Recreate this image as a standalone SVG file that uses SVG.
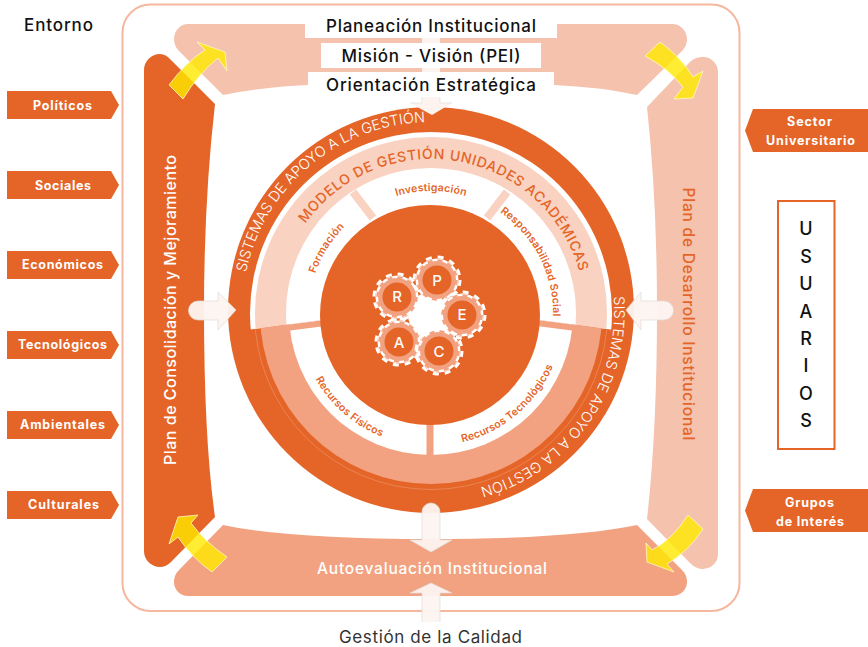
<svg xmlns="http://www.w3.org/2000/svg" width="868" height="647" viewBox="0 0 868 647">
<style>
text{font-family:"Inter","Open Sans","Liberation Sans",sans-serif}
.or{fill:#E46527}.mid{fill:#F2A280}.lt{fill:#F5C2AE}.pale{fill:#F9D2C2}
.tab{fill:#E46527}
.tt{fill:#fff;font-size:12.5px;font-weight:700;text-anchor:middle}
.hd{fill:#111;font-size:17px;font-weight:500;text-anchor:middle}
.seg{fill:#E46527;font-size:10.5px;font-weight:600;text-anchor:middle;letter-spacing:.2px}
.sis{fill:#fff;font-size:14.5px;font-weight:300;text-anchor:middle}
.us{fill:#111;font-size:18px;font-weight:500;text-anchor:middle}
.gl{fill:#fff;font-size:15px;font-weight:500;text-anchor:middle}
.yel{fill:#FFE800;fill-opacity:.8;stroke:#FFF9C8;stroke-width:.8}
.wh{fill:#FDF4F0;fill-opacity:.95;stroke:#DFDBD8;stroke-width:.7}
</style>
<defs>
<path id="pSisA" d="M253.4,375.6 A189,189 0 0 1 525.5,147.3" fill="none"/>
<path id="pSisB" d="M581,206 A183,183 0 0 1 383.6,487.8" fill="none"/>
<path id="pMod" d="M279.300,286.300 A154,154 0 0 1 582.700,339.700" fill="none"/>
<path id="pFor" d="M315,351 A122,122 0 0 1 414,192" fill="none"/>
<path id="pInv" d="M337.5,234.6 A122,122 0 0 1 524.5,234.6" fill="none"/>
<path id="pRes" d="M458.4,194.1 A122,122 0 0 1 543.3,360.7" fill="none"/>
<path id="pFis" d="M298.3,322.3 A133,133 0 0 0 440.3,445.7" fill="none"/>
<path id="pTec" d="M396.6,441.5 A133,133 0 0 0 563.5,301.4" fill="none"/>
<clipPath id="cUp"><path d="M220,100 H640 V333.5 L431,305 L220,333.5Z"/></clipPath>
<clipPath id="cLow"><path d="M220,333.5 L431,305 L640,333.5 V520 H220Z"/></clipPath>
<g id="gear">
<circle r="23" fill="none" stroke="#fff" stroke-width="3" stroke-dasharray="6 6.04"/>
<circle r="21.5" fill="#fff"/>
<circle r="19.5" fill="none" stroke="#F2A280" stroke-width="2.5" stroke-dasharray="5 5.2"/>
<circle r="19" fill="#F2A280"/>
<circle r="14.5" fill="#E46527"/>
</g>
</defs>
<rect width="868" height="647" fill="#fff"/>
<rect id="marco" x="122.5" y="4.5" width="617" height="606.5" rx="28" fill="#fff" stroke="#F5B79E" stroke-width="2"/>
<g id="planeacion-band"><path class="lt" d="M188,24 H672 A15,15 0 0 1 687,39 Q687,46 682,51 L637,95 Q600,87 554,85 H308 Q262,87 223,95 L179,51 Q174,46 174,39 A14,15 0 0 1 188,24Z"/>
<rect x="305" y="20" width="252" height="18" fill="#fff"/><rect x="321" y="43" width="220" height="25" fill="#fff"/><rect x="308" y="72" width="246" height="26" fill="#fff"/></g>
<g id="consolidacion-band"><path class="or" d="M144,70 A16,16 0 0 1 160,54 Q166,54 171,60 L215,104 Q204,200 204,310 Q204,440 215,517 L171,562 Q166,567 160,567 A16,16 0 0 1 144,551Z"/></g>
<g id="desarrollo-band"><path class="lt" d="M718,72 A15,15 0 0 0 703,57 Q695,57 690,62 L647,107 Q657,200 657,310 Q657,430 647,519 L690,563 Q696,569 703,569 A15,15 0 0 0 718,554Z"/></g>
<g id="autoevaluacion-band"><path class="mid" d="M223,525 Q290,539 431,539 Q570,539 637,525 L682,570 Q687,575 687,582 A15,14 0 0 1 672,596 H188 A14,14 0 0 1 174,582 Q174,575 179,570Z"/></g>
<g id="sistemas-ring"><circle class="or" cx="431" cy="310" r="203"/>
<circle cx="431" cy="313" r="176.5" fill="none" stroke="#F2A280" stroke-width=".5" clip-path="url(#cLow)"/>
<circle cx="431" cy="313" r="181" fill="#fff" clip-path="url(#cUp)"/></g>
<g id="modelo-ring"><circle class="pale" cx="431" cy="313" r="176" clip-path="url(#cUp)"/>
<circle class="mid" cx="431" cy="313" r="171" clip-path="url(#cLow)"/>
<circle cx="431" cy="313" r="145" fill="#fff" clip-path="url(#cUp)"/>
<circle cx="431" cy="313" r="142" fill="#fff" clip-path="url(#cLow)"/>
<path d="M353,192 L373,218 M507,192 L487,218" stroke="#F9D2C2" stroke-width="8" fill="none"/>
<path d="M430,424 V455" stroke="#F2A280" stroke-width="7" fill="none"/>
<path d="M286,328 L325,323 M576,328 L537,323" stroke="#F2A280" stroke-width="6" fill="none"/></g>
<g id="nucleo"><circle class="or" cx="430" cy="315" r="110"/></g>
<g id="ciclo-rpace">
<circle cx="431" cy="315" r="23" fill="#fff"/>
<use href="#gear" x="399" y="342"/><use href="#gear" x="397" y="297"/><use href="#gear" x="437" y="280"/><use href="#gear" x="462" y="315"/><use href="#gear" x="439" y="351"/>
<text class="gl" x="397" y="302">R</text><text class="gl" x="437" y="286">P</text><text class="gl" x="462" y="320">E</text><text class="gl" x="399" y="348">A</text><text class="gl" x="439" y="357">C</text>
</g>
<g id="connectors">
<path class="yel" d="M169,85 Q186,62 205,50 L197,42 L225,52 L227,71 L218,58 Q198,74 183,99Z"/>
<path class="yel" d="M645,56 L660,42 Q682,58 693,77 L703,71 L693,98 L674,99 L683,87 Q668,68 645,56Z"/>
<path class="yel" d="M688,515 L703,529 Q688,552 667,564 L674,572 L647,562 L646,543 L652,550 Q672,540 688,515Z"/>
<path class="yel" d="M227,557 L212,572 Q192,558 178,537 L169,544 L178,517 L198,515 L191,523 Q205,542 227,557Z"/>
<path fill="#FDF4F0" d="M422,38 H440 V97 V103 H452 L432,115 L410,103 H422Z"/>
<rect x="321" y="43" width="220" height="25" fill="#fff"/><rect x="308" y="72" width="246" height="25" fill="#fff"/>
<path d="M422,97 V103 H410 M440,97 V103 H452" fill="none" stroke="#DFDBD8" stroke-width=".7"/>
<path class="wh" d="M198,301 H218 V292 L236,310 L218,330 V320 H198 A9.5,9.5 0 0 1 198,301Z"/>
<path class="wh" d="M664,301 H641 V292 L626,310 L641,330 V320 H664 A9.5,9.5 0 0 0 664,301Z"/>
<path class="wh" d="M422,512 A9,9 0 0 1 440,512 V540 H452 L431,552 L410,540 H422Z"/>
<path class="wh" d="M422,622 V593 H410 L431,583 L452,593 H440 V622"/>
</g>
<g id="ring-labels">
<text class="sis"><textPath href="#pSisA" startOffset="50%">SISTEMAS DE APOYO A LA GESTIÓN</textPath></text>
<text class="sis"><textPath href="#pSisB" startOffset="50%">SISTEMAS DE APOYO A LA GESTIÓN</textPath></text>
<text fill="#E46527" font-size="14" font-weight="500" text-anchor="middle" letter-spacing=".7"><textPath href="#pMod" startOffset="50%">MODELO DE GESTIÓN UNIDADES ACADÉMICAS</textPath></text>
<text class="seg"><textPath href="#pFor" startOffset="50%">Formación</textPath></text>
<text class="seg"><textPath href="#pInv" startOffset="50%">Investigación</textPath></text>
<text class="seg"><textPath href="#pRes" startOffset="50%">Responsabilidad Social</textPath></text>
<text class="seg"><textPath href="#pFis" startOffset="50%">Recursos Físicos</textPath></text>
<text class="seg"><textPath href="#pTec" startOffset="50%">Recursos Tecnológicos</textPath></text>
</g>
<g id="titulos">
<text class="hd" x="431" y="32" textLength="210">Planeación Institucional</text>
<text class="hd" x="431" y="62" textLength="179">Misión - Visión (PEI)</text>
<text class="hd" x="431" y="91" textLength="210">Orientación Estratégica</text>
<text x="432" y="574" fill="#fff" font-size="15.5" font-weight="500" text-anchor="middle" textLength="230">Autoevaluación Institucional</text>
<text x="430.500" y="643" fill="#333" font-size="17" text-anchor="middle" textLength="183">Gestión de la Calidad</text>
<text class="hd" x="58.500" y="31" textLength="69">Entorno</text>
<text transform="translate(176,310) rotate(-90)" fill="#fff" font-size="16" font-weight="500" text-anchor="middle" textLength="310">Plan de Consolidación y Mejoramiento</text>
<text transform="translate(683,314) rotate(90)" fill="#E46527" font-size="15.500" font-weight="500" text-anchor="middle" textLength="253">Plan de Desarrollo Institucional</text>
</g>
<g id="entorno-politicos"><path class="tab" d="M7,91 H111 L119,105 L111,119 H7Z"/><text class="tt" x="62.500" y="110" textLength="59">Políticos</text></g>
<g id="entorno-sociales"><path class="tab" d="M7,171 H111 L119,185 L111,199 H7Z"/><text class="tt" x="63" y="190" textLength="56">Sociales</text></g>
<g id="entorno-economicos"><path class="tab" d="M7,251 H111 L119,265 L111,279 H7Z"/><text class="tt" x="62.500" y="269" textLength="81">Económicos</text></g>
<g id="entorno-tecnologicos"><path class="tab" d="M7,331 H111 L119,345 L111,359 H7Z"/><text class="tt" x="62.500" y="349" textLength="89">Tecnológicos</text></g>
<g id="entorno-ambientales"><path class="tab" d="M7,411 H111 L119,425 L111,439 H7Z"/><text class="tt" x="62.500" y="429" textLength="85">Ambientales</text></g>
<g id="entorno-culturales"><path class="tab" d="M7,491 H111 L119,505 L111,519 H7Z"/><text class="tt" x="63.500" y="509" textLength="71">Culturales</text></g>
<g id="sector-universitario"><path class="tab" d="M753,109 H868 V152 H753 L745,130.500Z"/><text class="tt" x="809.500" y="126" textLength="45">Sector</text><text class="tt" x="810.500" y="145" textLength="89">Universitario</text></g>
<g id="grupos-interes"><path class="tab" d="M753,489 H868 V532 H753 L745,510.500Z"/><text class="tt" x="809.500" y="507" textLength="49">Grupos</text><text class="tt" x="810" y="526" textLength="68">de Interés</text></g>
<g id="usuarios"><rect x="778" y="201" width="56.500" height="248" fill="#fff" stroke="#E46527" stroke-width="2"/>
<text class="us" x="806" y="235">U</text><text class="us" x="806" y="263">S</text><text class="us" x="806" y="290">U</text><text class="us" x="806" y="318">A</text><text class="us" x="806" y="345">R</text><text class="us" x="806" y="372">I</text><text class="us" x="806" y="400">O</text><text class="us" x="806" y="427">S</text></g>
</svg>
